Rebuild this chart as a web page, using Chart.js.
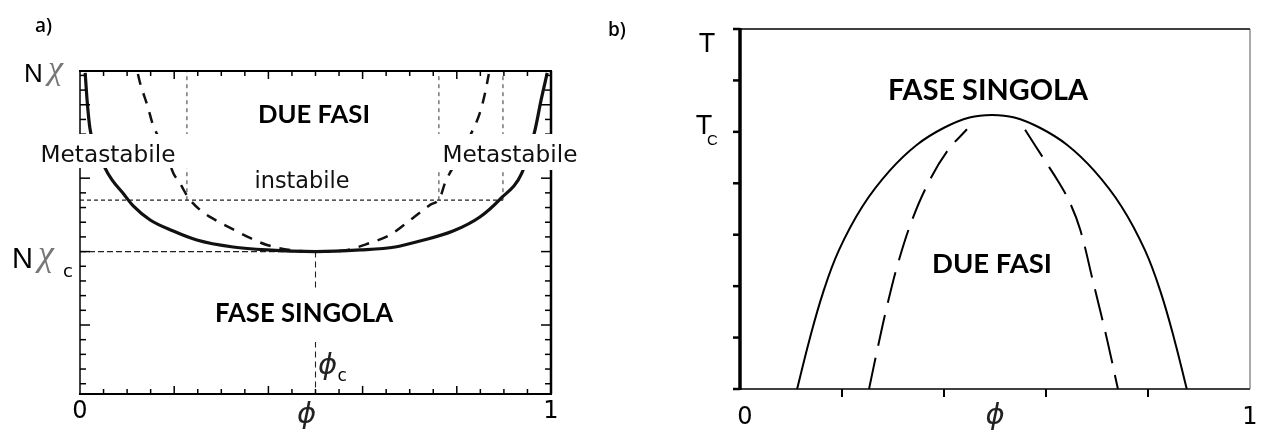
<!DOCTYPE html>
<html>
<head>
<meta charset="utf-8">
<script src="https://cdn.jsdelivr.net/npm/chart.js@4/dist/chart.umd.min.js"></script>
<style>
  html, body { margin: 0; padding: 0; background: #fff; }
  #wrap { position: relative; width: 1263px; height: 432px; overflow: hidden; background: #fff; }
  canvas { position: absolute; top: 0; }
  #chartA { left: 0; }
  #chartB { left: 600px; }
</style>
</head>
<body>
<div id="wrap">
  <canvas id="chartA" width="600" height="432"></canvas>
  <canvas id="chartB" width="663" height="432"></canvas>
</div>
<script>
// ---- panel a) : N*chi against phi ----
const binodalPhiA = [0.011, 0.015, 0.021, 0.053, 0.068, 0.091, 0.113, 0.149, 0.198, 0.248, 0.325, 0.397, 0.5,
                     0.595, 0.669, 0.722, 0.792, 0.849, 0.892, 0.938, 0.966, 0.979, 0.992];
const binodalChiA = [22.17, 20.33, 18.42, 15.70, 14.88, 13.99, 13.11, 12.15, 11.40, 10.79, 10.31, 10.11, 10.0,
                     10.11, 10.31, 10.72, 11.40, 12.36, 13.58, 15.35, 18.28, 20.33, 22.17];
const spinodalPhiA = [0.123, 0.127, 0.144, 0.155, 0.181, 0.198, 0.212, 0.229, 0.255, 0.276, 0.319, 0.361, 0.397, 0.446, 0.5,
                      0.552, 0.616, 0.658, 0.707, 0.743, 0.764, 0.775, 0.807, 0.834, 0.849, 0.860, 0.868];
const spinodalChiA = [22.10, 21.55, 19.85, 18.62, 16.92, 15.35, 14.67, 13.72, 12.83, 12.36, 11.61, 10.93, 10.45, 10.11, 10.0,
                      10.04, 10.59, 11.13, 12.29, 13.17, 13.65, 14.67, 16.58, 18.28, 19.44, 20.80, 22.10];
const phiCrit = 0.5;
const chiCrit = 10.0;
const chiInstab = 13.5;
const dottedPhiA = [0.227, 0.762, 0.898];
const xTickValues = [0, 0.5, 1];
const xTickLabels = ['0', 'ϕ', '1'];

// ---- panel b) : T against phi ----
const binodalPhiB = [0.112, 0.136, 0.163, 0.194, 0.24, 0.294, 0.347, 0.40, 0.45, 0.494, 0.538, 0.588, 0.641, 0.694, 0.748, 0.794, 0.825, 0.852, 0.876];
const binodalTB   = [0, 0.95, 1.88, 2.70, 3.55, 4.25, 4.75, 5.08, 5.28, 5.33, 5.28, 5.08, 4.75, 4.25, 3.55, 2.70, 1.88, 0.95, 0];
const spinodalPhiB = [0.253, 0.270, 0.288, 0.310, 0.338, 0.370, 0.406, 0.445, 0.5, 0.559, 0.594, 0.625, 0.647, 0.667, 0.692, 0.72, 0.741];
const spinodalTB   = [0, 0.80, 1.60, 2.45, 3.30, 4.02, 4.62, 5.05, null, 5.04, 4.50, 4.02, 3.62, 3.10, 2.10, 0.95, 0];
const tTop = 7;
const tCrit = 5;

function pts(xs, ys) { return xs.map((x, i) => ({ x: x, y: ys[i] })); }

function seg(ctx, x1, y1, x2, y2, w) {
  ctx.lineWidth = w;
  ctx.beginPath(); ctx.moveTo(x1, y1); ctx.lineTo(x2, y2); ctx.stroke();
}

// set font size so that the text gets the wanted width
function fitFont(ctx, text, weight, family, width) {
  ctx.font = weight + ' 100px ' + family;
  const size = 100 * width / ctx.measureText(text).width;
  ctx.font = weight + ' ' + size.toFixed(2) + 'px ' + family;
}

function label(ctx, text, cx, base, weight, family, width, color) {
  fitFont(ctx, text, weight, family, width);
  ctx.fillStyle = color || '#000';
  ctx.textAlign = 'center';
  ctx.textBaseline = 'alphabetic';
  ctx.fillText(text, cx, base);
}

function plain(ctx, text, x, base, font, color, align) {
  ctx.font = font;
  ctx.fillStyle = color || '#000';
  ctx.textAlign = align || 'left';
  ctx.textBaseline = 'alphabetic';
  ctx.fillText(text, x, base);
}

const framePluginA = {
  id: 'frameA',
  afterDraw(chart) {
    const { ctx, chartArea: ca, scales: { x, y } } = chart;
    ctx.save();
    ctx.strokeStyle = '#000';
    ctx.setLineDash([]);
    // box
    seg(ctx, ca.left - 1, ca.top, ca.right + 1, ca.top, 2);
    seg(ctx, ca.left - 1, ca.bottom, ca.right + 1, ca.bottom, 2);
    seg(ctx, ca.left, ca.top, ca.left, ca.bottom, 1.5);
    seg(ctx, ca.right, ca.top, ca.right, ca.bottom, 2.5);
    // inner ticks
    for (let k = 1; k < 20; k++) {
      const px = x.getPixelForValue(k * 0.05);
      const len = k % 4 === 0 ? 8 : 5;
      seg(ctx, px, ca.bottom, px, ca.bottom - len, 1.5);
      seg(ctx, px, ca.top, px, ca.top + len, 1.5);
    }
    for (let v = 1; v <= 22; v++) {
      const py = y.getPixelForValue(v);
      const len = v % 5 === 0 ? 10 : 6;
      seg(ctx, ca.left, py, ca.left + len, py, 1.5);
      seg(ctx, ca.right, py, ca.right - len, py, 1.5);
    }
    // white boxes behind labels
    ctx.fillStyle = '#fff';
    ctx.fillRect(30, 134, 162, 34);
    ctx.fillRect(432, 134, 158, 36);
    ctx.fillRect(205, 290, 195, 52);

    label(ctx, 'Metastabile', 108, 162, 'normal', '"DejaVu Sans"', 135, '#111');
    label(ctx, 'Metastabile', 510, 162, 'normal', '"DejaVu Sans"', 135, '#111');
    label(ctx, 'instabile', 302, 188, 'normal', '"DejaVu Sans"', 95, '#111');
    label(ctx, 'DUE FASI', 314, 123, 'bold', 'Lato', 112);
    label(ctx, 'FASE SINGOLA', 304, 322, 'bold', 'Lato', 178);

    // panel letter
    plain(ctx, 'a)', 35, 32, '600 19px "Open Sans"', '#000');

    // y labels
    const yTop = y.getPixelForValue(y.max);
    plain(ctx, 'N', 24, yTop + 11, '26px "Liberation Sans"', '#000');
    plain(ctx, 'χ', 48, yTop + 8, 'italic 34px "Liberation Serif"', '#777');
    const yc = y.getPixelForValue(chiCrit);
    plain(ctx, 'N', 12, yc + 16, '29px "Liberation Sans"', '#000');
    plain(ctx, 'χ', 38, yc + 13, 'italic 36px "Liberation Serif"', '#777');
    plain(ctx, 'c', 63, yc + 25, '18px "DejaVu Sans"', '#000');

    // x labels
    xTickValues.forEach((v, i) => {
      const px = x.getPixelForValue(v);
      if (xTickLabels[i] === 'ϕ') {
        plain(ctx, 'ϕ', px - 9, ca.bottom + 29, 'italic 29px "DejaVu Sans"', '#222', 'center');
      } else {
        plain(ctx, xTickLabels[i], px, ca.bottom + 24, '24px "DejaVu Sans"', '#000', 'center');
      }
    });
    const pc = x.getPixelForValue(phiCrit);
    plain(ctx, 'ϕ', pc + 12, ca.bottom - 20, 'italic 29px "DejaVu Sans"', '#222', 'center');
    plain(ctx, 'c', pc + 22, ca.bottom - 13, '17px "DejaVu Sans"', '#000');
    ctx.restore();
  }
};

const framePluginB = {
  id: 'frameB',
  afterDraw(chart) {
    const { ctx, chartArea: ca, scales: { x, y } } = chart;
    ctx.save();
    ctx.strokeStyle = '#000';
    seg(ctx, ca.left - 6, ca.bottom, ca.right, ca.bottom, 1.5);
    seg(ctx, ca.left, ca.top, ca.right, ca.top, 1.5);
    ctx.strokeStyle = '#555';
    seg(ctx, ca.right, ca.top, ca.right, ca.bottom, 1);
    ctx.strokeStyle = '#000';
    seg(ctx, ca.left, ca.top - 1, ca.left, ca.bottom + 1, 3.5);
    for (let v = 0; v <= tTop; v++) {
      const py = y.getPixelForValue(v);
      seg(ctx, ca.left, py, ca.left - 7, py, 2.5);
    }
    for (let k = 1; k < 5; k++) {
      const px = x.getPixelForValue(k * 0.2);
      seg(ctx, px, ca.bottom, px, ca.bottom + 8, 2);
    }
    label(ctx, 'FASE SINGOLA', 388, 100, 'bold', 'Lato', 200);
    label(ctx, 'DUE FASI', 392, 273, 'bold', 'Lato', 120);

    plain(ctx, 'b)', 8, 36, '600 19px "Open Sans"', '#000');
    const pT = y.getPixelForValue(tTop);
    plain(ctx, 'T', 107, pT + 23, '27px "Liberation Sans"', '#000', 'center');
    const pTc = y.getPixelForValue(tCrit);
    plain(ctx, 'T', 104, pTc + 2, '27px "Liberation Sans"', '#000', 'center');
    plain(ctx, 'C', 107, pTc + 13, '15px "Liberation Sans"', '#000');

    xTickValues.forEach((v, i) => {
      const px = x.getPixelForValue(v);
      if (xTickLabels[i] === 'ϕ') {
        plain(ctx, 'ϕ', px, ca.bottom + 35, 'italic 29px "DejaVu Sans"', '#222', 'center');
      } else {
        plain(ctx, xTickLabels[i], px + (v === 0 ? 5 : 0), ca.bottom + 35, '24px "DejaVu Sans"', '#000', 'center');
      }
    });
    ctx.restore();
  }
};

function baseOptions(yMin, yMax, pad) {
  return {
    responsive: false,
    animation: false,
    layout: { padding: pad },
    plugins: { legend: { display: false }, tooltip: { enabled: false } },
    elements: { point: { radius: 0 } },
    scales: {
      x: { type: 'linear', min: 0, max: 1, display: false },
      y: { type: 'linear', min: yMin, max: yMax, display: false }
    }
  };
}

new Chart(document.getElementById('chartA'), {
  type: 'scatter',
  data: {
    datasets: [
      { data: pts(binodalPhiA, binodalChiA), showLine: true, borderColor: '#111', borderWidth: 3.2, cubicInterpolationMode: 'monotone' },
      { data: pts(spinodalPhiA, spinodalChiA), showLine: true, borderColor: '#111', borderWidth: 2.5, borderDash: [11, 9], cubicInterpolationMode: 'monotone' },
      { data: [{ x: 0, y: chiInstab }, { x: dottedPhiA[2], y: chiInstab }], showLine: true, borderColor: '#222', borderWidth: 1.3, borderDash: [4, 3] },
      { data: [{ x: 0, y: chiCrit }, { x: phiCrit, y: chiCrit }], showLine: true, borderColor: '#222', borderWidth: 1.1, borderDash: [6, 3] },
      { data: [{ x: phiCrit, y: chiCrit }, { x: phiCrit, y: 0.3 }], showLine: true, borderColor: '#222', borderWidth: 1.1, borderDash: [6, 4] },
      ...dottedPhiA.map(p => ({ data: [{ x: p, y: chiInstab }, { x: p, y: 22.3 }], showLine: true, borderColor: '#333', borderWidth: 1, borderDash: [4, 4] }))
    ]
  },
  options: baseOptions(0.3, 22.3, { left: 80, top: 71, right: 49, bottom: 38 }),
  plugins: [framePluginA]
});

new Chart(document.getElementById('chartB'), {
  type: 'scatter',
  data: {
    datasets: [
      { data: pts(binodalPhiB, binodalTB), showLine: true, borderColor: '#000', borderWidth: 2, tension: 0.4 },
      { data: pts(spinodalPhiB, spinodalTB), showLine: true, borderColor: '#000', borderWidth: 2, borderDash: [32, 12], tension: 0.4, spanGaps: false }
    ]
  },
  options: baseOptions(0, tTop, { left: 140, top: 29, right: 13, bottom: 43 }),
  plugins: [framePluginB]
});
</script>
</body>
</html>
